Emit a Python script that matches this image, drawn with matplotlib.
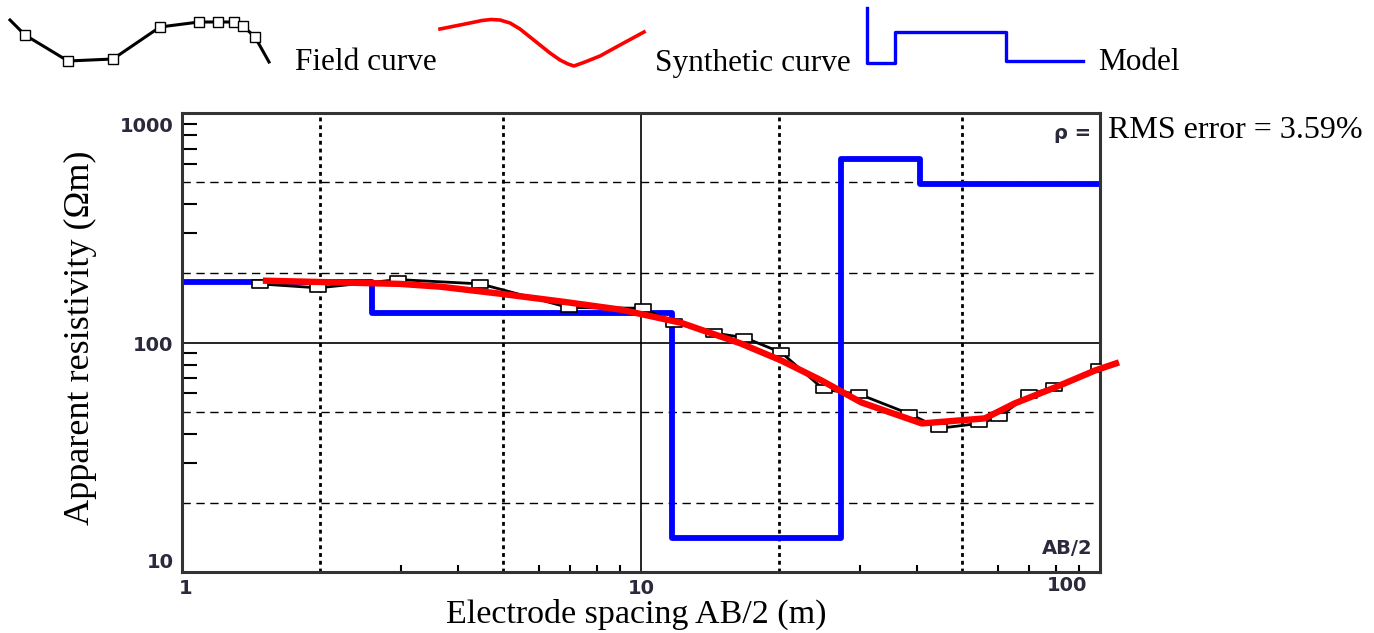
import matplotlib
matplotlib.use('Agg')
import matplotlib.pyplot as plt
import matplotlib.transforms as mtransforms
from matplotlib.path import Path

# field measurements: AB/2 (m) and apparent resistivity (ohm m)
field_ab2 = [1.48, 1.98, 2.96, 4.47, 6.96, 10.1, 11.8, 14.4, 16.8, 20.2,
             25.0, 29.9, 38.3, 44.7, 54.5, 60.2, 70.0, 79.4, 99.5]
field_rho = [180, 173, 188, 180, 142, 141, 122, 110, 105, 90.5,
             62.5, 59.5, 49, 42.3, 44.4, 47.2, 59.4, 63.7, 77.8]

# synthetic (calculated) curve
syn_ab2 = [1.50, 2.99, 3.66, 4.95, 6.69, 9.04, 12.2, 16.5, 20.2, 24.7,
           30.2, 40.9, 56.1, 65.2, 79.8, 97.5, 110]
syn_rho = [186, 180, 175, 163, 151, 139, 122, 99, 83.5, 68.4,
           54.8, 44.4, 46.7, 54.3, 63.7, 75.5, 81.9]

# layered model: layer boundaries (m) and layer resistivities (ohm m)
model_bounds = [1, 2.6, 11.7, 27.3, 40.5, 100]
model_rho = [184, 134, 14.1, 631, 491]

x_labels = ['1', '10', '100']
y_labels = ['10', '100', '1000']

# legend icon shapes (local units)
icon_field_x = [0, 15, 58, 103, 150, 189, 208, 224, 233, 245, 259]
icon_field_y = [2, 17, 43, 41, 9, 4, 4, 4, 8, 19, 44]
icon_syn_x = [0, 15, 30, 42, 51, 60, 70, 80, 90, 100, 110, 120, 128, 134,
              145, 160, 180, 204]
icon_syn_y = [11, 8, 5, 2.5, 1.5, 2, 5, 11, 19, 27, 35, 42, 46, 48,
              44, 38, 27, 14]
icon_model_x = [0, 0, 28, 28, 139, 139, 216]
icon_model_y = [0, 55, 55, 24, 24, 53, 53]

W, H = 1374, 633
fig = plt.figure(figsize=(W / 100, H / 100), dpi=100)
serif = 'Liberation Serif'
tick_col = '#2a2a3c'


def fig_box(x0, y0, x1, y1):
    return [x0 / W, 1 - y1 / H, (x1 - x0) / W, (y1 - y0) / H]


ax = fig.add_axes(fig_box(182, 113, 1100, 572))
ax.set_xscale('log')
ax.set_yscale('log')
ax.set_xlim(1, 100)
ax.set_ylim(10, 1000)

# grid lines
for v in [2, 5, 20, 50]:
    ax.axvline(v, color='black', lw=2.0, ls=(0, (1.4, 1.4)), zorder=1)
for v in [20, 50, 200, 500]:
    ax.axhline(v, color='black', lw=1.0, ls=(0, (6, 4)), zorder=1)
ax.axvline(10, color='black', lw=1.2, zorder=1)
ax.axhline(100, color='black', lw=1.2, zorder=1)

rect = Path([(-1, -0.55), (1, -0.55), (1, 0.55), (-1, 0.55), (-1, -0.55)],
            [Path.MOVETO, Path.LINETO, Path.LINETO, Path.LINETO, Path.CLOSEPOLY])

ax.step(model_bounds, model_rho + [model_rho[-1]], where='post',
        color='#0000ff', lw=4.2, zorder=2)
ax.plot(field_ab2, field_rho, color='black', lw=2, zorder=3,
        marker=rect, markersize=11, mfc='white', mec='black', mew=1.2)
ax.plot(syn_ab2, syn_rho, color='#ff0000', lw=4.6, zorder=4, clip_on=False,
        solid_capstyle='butt')

for s in ax.spines.values():
    s.set_linewidth(2.2)
    s.set_color('#333333')

ax.set_xticks([1, 10, 100], x_labels)
ax.set_yticks([10, 100, 1000], y_labels)
ax.set_xticks([3, 4, 6, 7, 8, 9, 30, 40, 60, 70, 80, 90], minor=True)
ax.set_yticks([30, 40, 60, 70, 80, 90, 300, 400, 600, 700, 800, 900], minor=True)
ax.xaxis.set_minor_formatter(plt.NullFormatter())
ax.yaxis.set_minor_formatter(plt.NullFormatter())
ax.tick_params(which='major', length=0, labelsize=14, labelcolor=tick_col)
ax.tick_params(axis='x', which='major', pad=5)
ax.tick_params(axis='y', which='major', pad=6)
ax.tick_params(axis='x', which='minor', direction='in', length=5, width=1.5)
ax.tick_params(axis='y', which='minor', direction='in', length=11, width=1.5)
for lab in ax.get_xticklabels() + ax.get_yticklabels():
    lab.set_fontweight('bold')

x_off = [(0.04, 0), (0, 0), (-0.33, 0.03)]
y_off = [(0, 0.12), (0, -0.01), (0, -0.11)]
for lab, (dx, dy) in zip(ax.get_xticklabels(), x_off):
    lab.set_transform(lab.get_transform() + mtransforms.ScaledTranslation(dx, dy, fig.dpi_scale_trans))
for lab, (dx, dy) in zip(ax.get_yticklabels(), y_off):
    lab.set_transform(lab.get_transform() + mtransforms.ScaledTranslation(dx, dy, fig.dpi_scale_trans))

ax.text(0.99, 0.955, '\u03c1 =', transform=ax.transAxes, ha='right', va='center',
        fontsize=14, fontweight='bold', color=tick_col)
ax.text(0.992, 0.052, 'AB/2', transform=ax.transAxes, ha='right', va='center',
        fontsize=14, fontweight='bold', color=tick_col)

fig.text(636 / W, 1 - 614 / H, 'Electrode spacing AB/2 (m)', family=serif,
         fontsize=24.5, ha='center', va='center')
fig.text(80 / W, 1 - 338 / H, 'Apparent resistivity (\u03a9m)', family=serif,
         fontsize=26, ha='center', va='center', rotation=90)
fig.text(1108 / W, 1 - 130 / H, 'RMS error = 3.59%', family=serif,
         fontsize=23, ha='left', va='center')

# legend row
fig.text(295 / W, 1 - 63 / H, 'Field curve', family=serif, fontsize=22.5,
         ha='left', va='center')
fig.text(655 / W, 1 - 63 / H, 'Synthetic curve', family=serif, fontsize=22.5,
         ha='left', va='center')
fig.text(1098 / W, 1 - 63 / H, 'Model', family=serif, fontsize=22.5,
         ha='left', va='center')

lax = fig.add_axes(fig_box(10, 18, 270, 65))
lax.plot(icon_field_x, icon_field_y, color='black', lw=2.2, clip_on=False)
lax.plot(icon_field_x[1:-1], icon_field_y[1:-1], ls='none', marker='s',
         markersize=6.5, mfc='white', mec='black', mew=1.0, clip_on=False)
lax.set_xlim(0, 260)
lax.set_ylim(47, 0)
lax.axis('off')

lax = fig.add_axes(fig_box(440, 18, 644, 67))
lax.plot(icon_syn_x, icon_syn_y, color='#ff0000', lw=2.6, clip_on=False)
lax.set_xlim(0, 204)
lax.set_ylim(49, 0)
lax.axis('off')

lax = fig.add_axes(fig_box(867, 8, 1083, 63))
lax.plot(icon_model_x, icon_model_y, color='#0000ff', lw=2.4, clip_on=False)
lax.set_xlim(0, 216)
lax.set_ylim(55, 0)
lax.axis('off')

fig.savefig('out.png', dpi=100)
